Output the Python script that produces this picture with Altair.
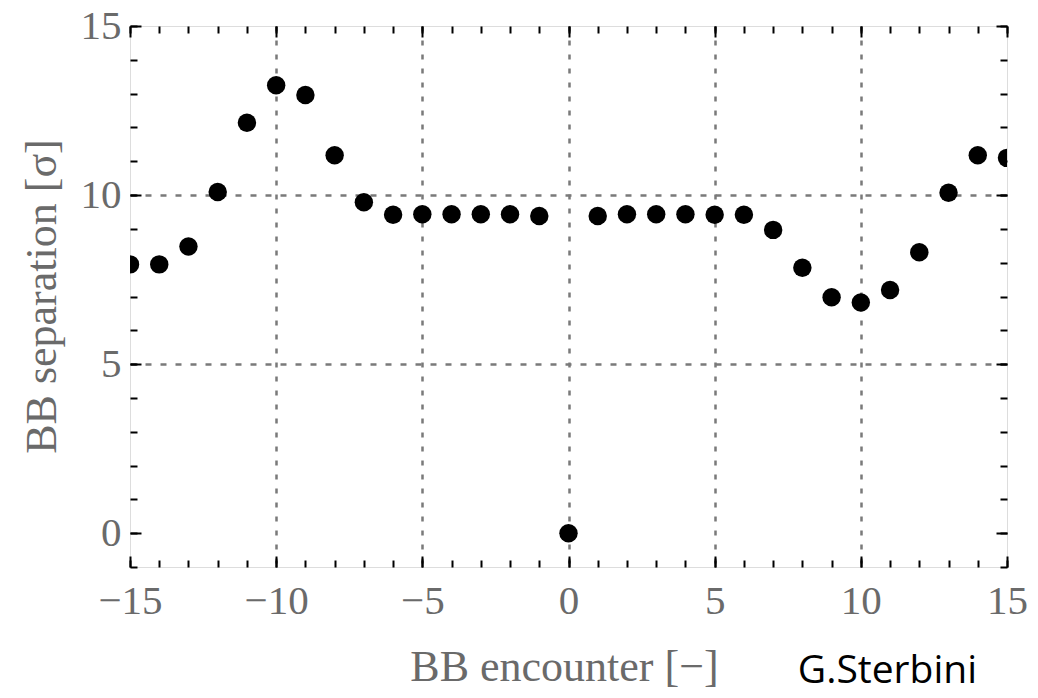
import altair as alt
import pandas as pd

# ---- data ----
encounter = list(range(-15, 16))
separation = [7.95, 7.95, 8.48, 10.09, 12.14, 13.25, 12.96, 11.18, 9.79, 9.42,
              9.43, 9.43, 9.43, 9.43, 9.38, 0.0, 9.38, 9.43, 9.43, 9.43,
              9.42, 9.42, 8.97, 7.85, 6.98, 6.82, 7.19, 8.31, 10.07, 11.18, 11.10]

x_major = [-15, -10, -5, 0, 5, 10, 15]
x_minor = list(range(-15, 16))
y_major = [0, 5, 10, 15]
y_minor = list(range(-1, 16))

x_title = "BB encounter [−]"
y_title = "BB separation [σ]"
credit = "G.Sterbini"

df = pd.DataFrame({"encounter": encounter, "separation": separation})

SERIF = "Liberation Serif"
GRAY = "#6a6a6a"
GRID = "#7a7a7a"
xscale = alt.Scale(domain=[-15, 15], nice=False, zero=False)
yscale = alt.Scale(domain=[-1, 15], nice=False, zero=False)


def tick_axis(orient, values, size):
    return alt.Axis(orient=orient, values=values, tickSize={"expr": str(-size)},
                    tickWidth=2, tickColor="black", domain=False, labels=False,
                    grid=False, title="")


x_main = alt.Axis(
    orient="bottom", values=x_major, tickSize={"expr": "-11"}, tickWidth=2,
    tickColor="black", domain=False, labels=True, labelFont=SERIF,
    labelFontSize=41, labelColor=GRAY, labelPadding=25, labelFlush=False,
    grid=True, gridColor=GRID, gridDash=[5, 9], gridWidth=2.5,
    gridOpacity=alt.condition("abs(datum.value) < 15", alt.value(1), alt.value(0)),
    title=x_title, titleFont=SERIF, titleFontSize=44, titleColor=GRAY,
    titleFontWeight="normal", titleX=434, titleY=113, titleBaseline="alphabetic",
)
y_main = alt.Axis(
    orient="left", values=y_major, tickSize={"expr": "-11"}, tickWidth=2,
    tickColor="black", domain=False, labels=True, labelFont=SERIF,
    labelFontSize=41, labelColor=GRAY, labelPadding=20, labelFlush=False,
    grid=True, gridColor=GRID, gridDash=[6, 9], gridWidth=2.5,
    gridOpacity=alt.condition("datum.value > 0 && datum.value < 15", alt.value(1), alt.value(0)),
    title=y_title, titleFont=SERIF, titleFontSize=44, titleColor=GRAY,
    titleFontWeight="normal", titleX=-75, titleY=270, titleBaseline="alphabetic",
)

points = alt.Chart(df).mark_circle(size=340, color="black", opacity=1, clip=True).encode(
    x=alt.X("encounter:Q", scale=xscale, axis=x_main),
    y=alt.Y("separation:Q", scale=yscale, axis=y_main),
)


def ghost(xa, ya):
    return alt.Chart(df).mark_circle(size=1, opacity=0).encode(
        x=alt.X("encounter:Q", scale=xscale, axis=xa),
        y=alt.Y("separation:Q", scale=yscale, axis=ya),
    )


minor_bl = ghost(tick_axis("bottom", x_minor, 7), tick_axis("left", y_minor, 7))
major_tr = ghost(tick_axis("top", x_major, 11), tick_axis("right", y_major, 11))
minor_tr = ghost(tick_axis("top", x_minor, 7), tick_axis("right", y_minor, 7))

chart = alt.layer(minor_bl, major_tr, minor_tr, points).resolve_axis(
    x="independent", y="independent"
).properties(
    width=877, height=541,
    autosize=alt.AutoSizeParams(type="none"),
    padding={"left": 130, "top": 26, "right": 31, "bottom": 131},
    title=alt.TitleParams(
        text=credit, orient="bottom", anchor="end", frame="group",
        font="Open Sans", fontSize=39, fontWeight="normal", color="black",
        baseline="alphabetic", offset=-6, dx=-30,
    ),
).configure_view(stroke="black", strokeWidth=2).configure(background="white")

chart.save("out.html", embed_options={"renderer": "svg", "actions": False})
